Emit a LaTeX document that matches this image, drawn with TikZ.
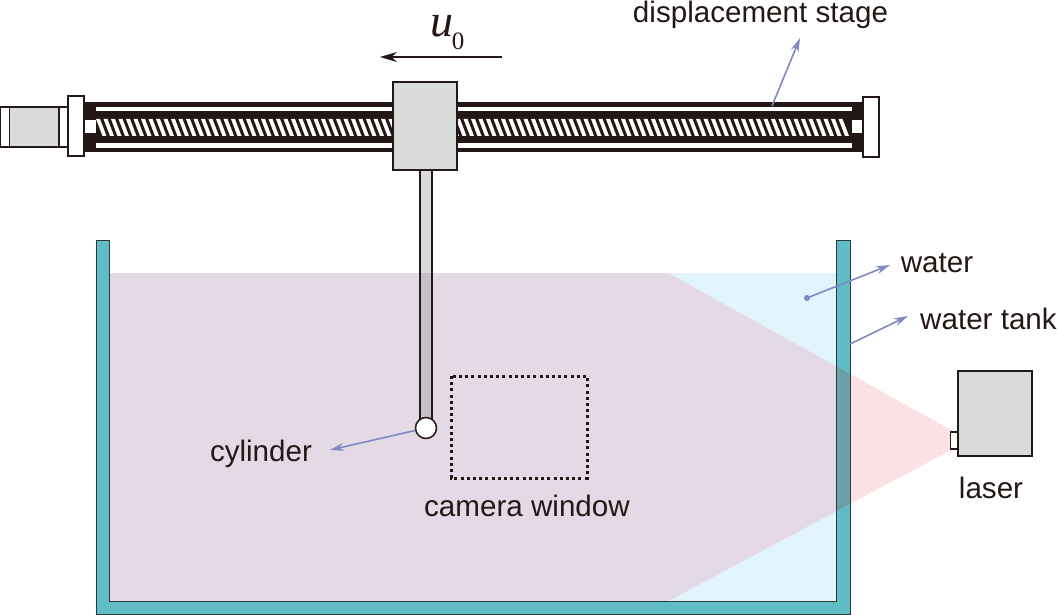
\documentclass[tikz,border=0pt]{standalone}
\usepackage{fontspec}
\setmainfont{Liberation Sans}
\newfontfamily\serifu{Liberation Serif}
\usetikzlibrary{arrows.meta}
\definecolor{waterc}{HTML}{E1F3FC}
\definecolor{beamc}{HTML}{FBE1E4}
\definecolor{mixc}{HTML}{E3DAE5}
\definecolor{wallc}{HTML}{60BCC6}
\definecolor{wallmix}{HTML}{6B9FA9}
\definecolor{metal}{HTML}{D9DBDB}
\definecolor{rodmix}{HTML}{C6BFCA}
\definecolor{inkc}{HTML}{231815}
\definecolor{pointer}{HTML}{7F88C2}
\tikzset{
  x=1pt,y=-1pt,
  part/.style={draw=inkc,line width=1.5pt},
  metalbox/.style={part,fill=metal},
  whitebox/.style={part,fill=white},
  lab/.style={font=\fontsize{29.6}{32}\selectfont,text=inkc,inner sep=0pt},
  pointerline/.style={draw=pointer,line width=1.6pt,-{Stealth[length=14pt,width=8pt]}},
  boxnode/.style={rectangle,inner sep=0pt,minimum width=#1},
}
\begin{document}
\begin{tikzpicture}
\useasboundingbox (0,0) rectangle (1058,615);
% water and beam
\fill[waterc] (109,273) rectangle (836,601);
\fill[beamc] (668,273) -- (951,430) -- (951,450) -- (668,601) -- cycle;
\begin{scope}
  \clip (109,273) rectangle (836,601);
  \fill[mixc] (100,273) -- (668,273) -- (951,430) -- (951,450) -- (668,601) -- (100,601) -- cycle;
\end{scope}
% tank
\fill[wallc,draw=inkc!80!wallc,line width=1pt] (96,240) -- (109,240) -- (109,601) -- (836,601) -- (836,240) -- (850,240) -- (850,614) -- (96,614) -- cycle;
\begin{scope}
  \clip (836,240) rectangle (850,601);
  \fill[wallmix] (668,273) -- (951,430) -- (951,450) -- (668,601) -- cycle;
\end{scope}
\draw[inkc!80!wallc,line width=1pt] (836,240) -- (836,601) (850,240) -- (850,614);
% stage body
\fill[inkc] (84,102) rectangle (863,152);
\fill[white] (96,107) rectangle (852,111);
\fill[white] (96,143.5) rectangle (852,148);
\fill[white] (85,120.5) rectangle (96,133.5);
\fill[white] (852,120.5) rectangle (862,133.5);
\foreach \sx in {96,103.5,...,845}{
  \fill[white] (\sx,119) -- (\sx+4,119) -- (\sx+10.5,136) -- (\sx+6.5,136) -- cycle;
}
% motor
\draw[whitebox] (0,107) rectangle (68,147);
\draw[metalbox] (9.5,107) rectangle (59,147);
\node[whitebox,boxnode=16pt,minimum height=60pt] (flangeL) at (76,126) {};
\node[whitebox,boxnode=16pt,minimum height=60pt] (flangeR) at (871,127) {};
% rod
\fill[metal] (420,170) rectangle (432,273);
\fill[rodmix] (420,273) rectangle (432,420);
\draw[part] (420,170) -- (420,420) (432,170) -- (432,420);
\node[metalbox,boxnode=64pt,minimum height=88pt] (carriage) at (425,126) {};
\node[whitebox,circle,minimum size=21pt,inner sep=0pt] (cyl) at (426,428) {};
% camera window
\draw[inkc,line width=3pt,dash pattern=on 3pt off 3.2pt] (451,376) rectangle (587,478);
% laser
\node[metalbox,boxnode=74pt,minimum height=85pt] (laser) at (995,413.5) {};
\node[whitebox,boxnode=7pt,minimum height=17pt,anchor=east] (lens) at (958,440.5) {};
% speed arrow
\coordinate (uA) at (502,57);
\coordinate (uB) at (380,57);
\draw[draw=inkc,line width=1.3pt,-{Stealth[length=17pt,width=10pt]}] (uA) -- (uB);
\node[text=inkc,inner sep=0pt,font=\serifu\fontsize{46}{48}\selectfont\itshape] (ulab) at (441.5,26) {u};
\node[text=inkc,inner sep=0pt,font=\serifu\fontsize{25}{27}\selectfont] (usub) at (458,41.5) {0};
% labels
\node[lab] (tstage) at (760.5,14.5) {displacement stage};
\node[lab] (twater) at (937,263) {water};
\node[lab] (ttank) at (988.5,319) {water tank};
\node[lab] (tlaser) at (991,488) {laser};
\node[lab] (tcyl) at (261,454) {cylinder};
\node[lab] (tcam) at (527,506) {camera window};
% pointers
\coordinate (pStageA) at (772,106);
\coordinate (pStageB) at (800,38);
\coordinate (pWaterA) at (807,298);
\coordinate (pWaterB) at (890,265);
\coordinate (pTankA) at (850,344);
\coordinate (pTankB) at (908,316);
\coordinate (pCylB) at (330,450);
\draw[pointerline] (pStageA) -- (pStageB);
\draw[pointerline] (pWaterA) -- (pWaterB);
\fill[pointer] (pWaterA) circle (3pt);
\draw[pointerline] (pTankA) -- (pTankB);
\draw[pointerline] (cyl) -- (pCylB);
\end{tikzpicture}
\end{document}
